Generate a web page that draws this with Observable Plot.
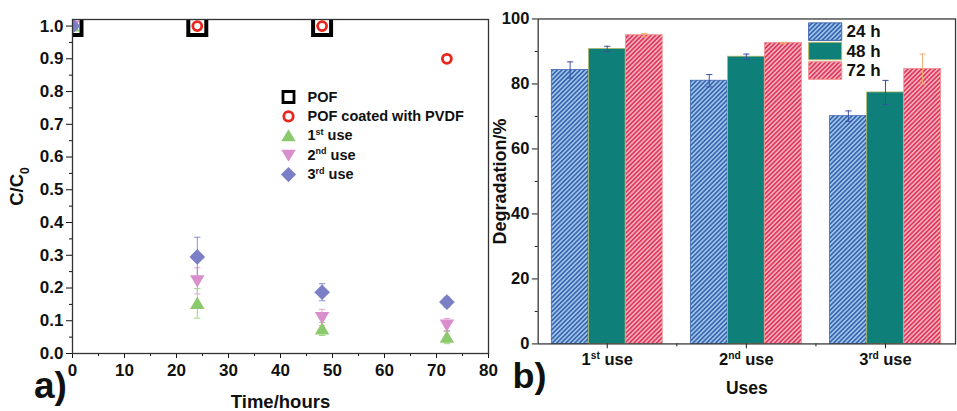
<!DOCTYPE html>
<html><head><meta charset="utf-8">
<script src="https://cdn.jsdelivr.net/npm/d3@7"></script>
<script src="https://cdn.jsdelivr.net/npm/@observablehq/plot@0.6"></script>
<style>
html,body{margin:0;padding:0;background:#fff;width:957px;height:411px;overflow:hidden;}
#wrap{position:relative;width:957px;height:411px;overflow:hidden;}
#a,#b{position:absolute;top:0;}
#a{left:0;} #b{left:490px;}
svg{overflow:visible;}
</style></head><body>
<svg width="0" height="0" style="position:absolute"><defs>
<pattern id="hatchBlue" patternUnits="userSpaceOnUse" width="3.3" height="3.3" patternTransform="rotate(45)">
<rect width="3.3" height="3.3" fill="#9cc4ea"/><line x1="0.8" y1="0" x2="0.8" y2="3.3" stroke="#305ca8" stroke-width="1.5"/></pattern>
<pattern id="hatchPink" patternUnits="userSpaceOnUse" width="3.3" height="3.3" patternTransform="rotate(45)">
<rect width="3.3" height="3.3" fill="#f4adc0"/><line x1="0.8" y1="0" x2="0.8" y2="3.3" stroke="#df2c4c" stroke-width="1.5"/></pattern>
</defs></svg>
<div id="wrap"><div id="a"></div><div id="b"></div></div>
<script>
// ---------- Panel a data ----------
const seriesNames = ["POF", "POF coated with PVDF", "1st use", "2nd use", "3rd use"];
const pofTime = [0, 24, 48];
const pofC = [1.0, 1.0, 1.0];
const pvdfTime = [0, 24, 48, 72];
const pvdfC = [1.0, 1.0, 1.0, 0.9];
const useTime = [0, 24, 48, 72];
const use1C = [1.0, 0.153, 0.075, 0.050];
const use1Err = [0, 0.045, 0.020, 0.020];
const use2C = [1.0, 0.222, 0.110, 0.087];
const use2Err = [0, 0.040, 0.025, 0.020];
const use3C = [1.0, 0.295, 0.187, 0.157];
const use3Err = [0, 0.060, 0.026, 0.015];
const xTicksA = [0, 10, 20, 30, 40, 50, 60, 70, 80];
const xMinorA = [5, 15, 25, 35, 45, 55, 65, 75];
const yTicksA = [0, 0.1, 0.2, 0.3, 0.4, 0.5, 0.6, 0.7, 0.8, 0.9, 1.0];
const yMinorA = [0.05, 0.15, 0.25, 0.35, 0.45, 0.55, 0.65, 0.75, 0.85, 0.95];

// ---------- Panel b data ----------
const uses = ["1st use", "2nd use", "3rd use"];
const hours = ["24 h", "48 h", "72 h"];
const deg24 = [84.3, 81.0, 70.1];
const err24 = [2.5, 1.9, 1.6];
const deg48 = [90.8, 88.4, 77.4];
const err48 = [0.8, 0.8, 3.7];
const deg72 = [95.0, 92.6, 84.6];
const err72 = [0.5, 0.2, 4.6];
const yTicksB = [0, 20, 40, 60, 80, 100];
const yMinorB = [10, 30, 50, 70, 90];

const font = "'Liberation Sans', Arial, Helvetica, sans-serif";
const ink = "#111";

// custom symbols (size = PI r^2)
const R = s => Math.sqrt(s / Math.PI);
const symSquare = {draw(c, s){ const h = R(s) * 1.45; c.rect(-h, -h, 2*h, 2*h); }};
const symUp = {draw(c, s){ const r = R(s); c.moveTo(0, -1.15*r); c.lineTo(1.25*r, 0.95*r); c.lineTo(-1.25*r, 0.95*r); c.closePath(); }};
const symDown = {draw(c, s){ const r = R(s); c.moveTo(0, 1.15*r); c.lineTo(1.25*r, -0.95*r); c.lineTo(-1.25*r, -0.95*r); c.closePath(); }};
const symDiamond = {draw(c, s){ const r = R(s)*1.35; c.moveTo(0, -r); c.lineTo(r, 0); c.lineTo(0, r); c.lineTo(-r, 0); c.closePath(); }};
const symCap = {draw(c, s){ c.moveTo(-3.2, 0); c.lineTo(3.2, 0); }};
const symBox = {draw(c, s){ c.rect(-17, -9, 34, 18); }};

const rows = (t, v, e) => t.map((d, i) => ({t: d, v: v[i], e: e ? e[i] : 0}));
const pof = rows(pofTime, pofC);
const pvdf = rows(pvdfTime, pvdfC);
const u1 = rows(useTime, use1C, use1Err);
const u2 = rows(useTime, use2C, use2Err);
const u3 = rows(useTime, use3C, use3Err);

const useStyles = [
  {data: u1, sym: symUp, fill: "#8cc96c", err: "#9ed484"},
  {data: u2, sym: symDown, fill: "#d98fcb", err: "#e2a6d8"},
  {data: u3, sym: symDiamond, fill: "#7a7fc6", err: "#8b8fd0"}
];

const errMarks = [];
for (const s of useStyles) {
  const d = s.data.filter(r => r.e > 0);
  errMarks.push(Plot.ruleX(d, {x: "t", y1: r => r.v - r.e, y2: r => r.v + r.e, stroke: s.err, strokeWidth: 1}));
  errMarks.push(Plot.dot(d, {x: "t", y: r => r.v + r.e, symbol: symCap, stroke: s.err, strokeWidth: 1}));
  errMarks.push(Plot.dot(d, {x: "t", y: r => r.v - r.e, symbol: symCap, stroke: s.err, strokeWidth: 1}));
}

const legendA = [];
const legSyms = [
  {symbol: symSquare, r: 3.8, stroke: "#000", strokeWidth: 2.8, fill: "none"},
  {symbol: "circle", r: 4.7, stroke: "#e8261d", strokeWidth: 2.8, fill: "none"},
  {symbol: symUp, r: 5.8, fill: "#8cc96c"},
  {symbol: symDown, r: 5.8, fill: "#d98fcb"},
  {symbol: symDiamond, r: 5.6, fill: "#7a7fc6"}
];
seriesNames.forEach((n, i) => {
  legendA.push(Plot.dot([n], {frameAnchor: "top-left", dx: 216, dy: 77.5 + i * 19.4, ...legSyms[i]}));
  legendA.push(Plot.text([n], {frameAnchor: "top-left", dx: 235, dy: 77.5 + i * 19.4, text: d => d, textAnchor: "start", lineAnchor: "middle", fontSize: 14.5}));
});

const chartA = Plot.plot({
  width: 500, height: 411,
  marginLeft: 72, marginRight: 12, marginTop: 19, marginBottom: 58,
  x: {domain: [0, 80], label: null},
  y: {domain: [0, 1.02], label: null},
  style: {fontFamily: font, fontSize: "17px", fontWeight: "bold", color: ink, background: "none", overflow: "visible"},
  marks: [
    Plot.axisX({ticks: xTicksA, tickSize: 5, tickPadding: 5, label: null, fontSize: 17}),
    Plot.axisX({ticks: xMinorA, tickSize: 3, tickFormat: () => "", label: null}),
    Plot.axisY({ticks: yTicksA, tickSize: 6, tickPadding: 3, tickFormat: d3.format(".1f"), label: null, fontSize: 17}),
    Plot.axisY({ticks: yMinorA, tickSize: 3, tickFormat: () => "", label: null}),
    ...errMarks,
    Plot.dot(pof, {x: "t", y: "v", symbol: symSquare, r: 6.2, stroke: "#000", strokeWidth: 4, fill: "none", clip: true}),
    Plot.dot(pvdf, {x: "t", y: "v", symbol: "circle", r: 4.5, stroke: "#e8261d", strokeWidth: 2.8, fill: "#fff", clip: true}),
    ...useStyles.map(s => Plot.dot(s.data, {x: "t", y: "v", symbol: s.sym, r: 5.8, fill: s.fill, clip: true})),
    Plot.frame({stroke: "#333", strokeWidth: 1.3}),
    ...legendA,
    Plot.text(["Time/hours"], {frameAnchor: "bottom", dy: 49, text: d => d, textAnchor: "middle", lineAnchor: "middle", fontSize: 18.5}),
    Plot.text(["C/C0"], {frameAnchor: "left", dx: -55, rotate: -90, text: d => d, textAnchor: "middle", lineAnchor: "middle", fontSize: 18.5}),
    Plot.text(["a)"], {frameAnchor: "bottom-left", dx: -22, dy: 33, text: d => d, textAnchor: "middle", lineAnchor: "middle", fontSize: 37})
  ]
});
document.getElementById("a").appendChild(chartA);

// ---------- Panel b ----------
const widthB = 480, mLB = 49, mRB = 2;
const stepB = (widthB - mLB - mRB) / uses.length;
const bw = stepB * 0.8 / hours.length;
const barData = [deg24, deg48, deg72].map((vals, j) =>
  uses.map((u, i) => ({use: u, hour: hours[j], value: vals[i], err: [err24, err48, err72][j][i]})));
const barFill = ["url(#hatchBlue)", "#0f8079", "url(#hatchPink)"];
const barStroke = ["#3f64ae", "#b8b86a", "#f08a8a"];
const errColor = ["#3a4da6", "#3a4da6", "#f3aa6a"];

const barMarks = [];
barData.forEach((d, j) => {
  barMarks.push(Plot.barY(d, {x: "use", y: "value", fill: barFill[j], stroke: barStroke[j], strokeWidth: 0.8, insetLeft: j * bw, insetRight: (2 - j) * bw}));
});
barData.forEach((d, j) => {
  const dx = (j - 1) * bw;
  barMarks.push(Plot.ruleX(d, {x: "use", y1: r => r.value - r.err, y2: r => r.value + r.err, dx, stroke: errColor[j], strokeWidth: 1}));
  barMarks.push(Plot.dot(d, {x: "use", y: r => r.value + r.err, dx, symbol: symCap, stroke: errColor[j], strokeWidth: 1}));
  barMarks.push(Plot.dot(d, {x: "use", y: r => r.value - r.err, dx, symbol: symCap, stroke: errColor[j], strokeWidth: 1}));
});
const legendB = [];
hours.forEach((h, j) => {
  legendB.push(Plot.dot([h], {frameAnchor: "top-left", dx: 295, dy: 13 + j * 20, symbol: symBox, fill: barFill[j], stroke: barStroke[j], strokeWidth: 1}));
  legendB.push(Plot.text([h], {frameAnchor: "top-left", dx: 317, dy: 13 + j * 20, text: d => d, textAnchor: "start", lineAnchor: "middle", fontSize: 17.5}));
});

const chartB = Plot.plot({
  width: widthB, height: 411,
  marginLeft: mLB, marginRight: mRB, marginTop: 19, marginBottom: 58,
  x: {type: "band", domain: uses, paddingInner: 0.2, paddingOuter: 0.1, label: null},
  y: {domain: [0, 100], label: null},
  style: {fontFamily: font, fontSize: "17px", fontWeight: "bold", color: ink, background: "none", overflow: "visible"},
  marks: [
    ...barMarks,
    Plot.axisX({tickSize: 5, tickPadding: 5, label: null, fontSize: 17}),
    Plot.axisX({ticks: uses.slice(0, 2), tickSize: 3, dx: stepB / 2, tickFormat: () => "", label: null}),
    Plot.axisY({ticks: yTicksB, tickSize: 6, tickPadding: 3, label: null, fontSize: 17}),
    Plot.axisY({ticks: yMinorB, tickSize: 3, tickFormat: () => "", label: null}),
    Plot.frame({stroke: "#333", strokeWidth: 1.3}),
    ...legendB,
    Plot.text(["Uses"], {frameAnchor: "bottom", dy: 46, text: d => d, textAnchor: "middle", lineAnchor: "middle", fontSize: 18}),
    Plot.text(["Degradation/%"], {frameAnchor: "left", dx: -39, rotate: -90, text: d => d, textAnchor: "middle", lineAnchor: "middle", fontSize: 18.5}),
    Plot.text(["b)"], {frameAnchor: "bottom-left", dx: -9, dy: 33, text: d => d, textAnchor: "middle", lineAnchor: "middle", fontSize: 37})
  ]
});
document.getElementById("b").appendChild(chartB);

// rich text: superscripts / subscript
function rich(root) {
  root.querySelectorAll("text").forEach(t => {
    const s = t.textContent;
    const fs = parseFloat(getComputedStyle(t).fontSize) || 16;
    const add = (txt, size, dy) => {
      const ts = document.createElementNS("http://www.w3.org/2000/svg", "tspan");
      ts.textContent = txt;
      if (size) ts.setAttribute("font-size", size + "px");
      if (dy) ts.setAttribute("dy", dy + "px");
      t.appendChild(ts);
    };
    let m = s.match(/^(\d)(st|nd|rd)( use)$/);
    if (m) {
      t.textContent = "";
      add(m[1]); add(m[2], fs * 0.62, -fs * 0.38); add(m[3], null, fs * 0.38);
      return;
    }
    if (s === "C/C0") {
      t.textContent = "";
      add("C/C"); add("0", fs * 0.65, fs * 0.3);
    }
  });
}
rich(chartA); rich(chartB);
</script>
</body></html>
